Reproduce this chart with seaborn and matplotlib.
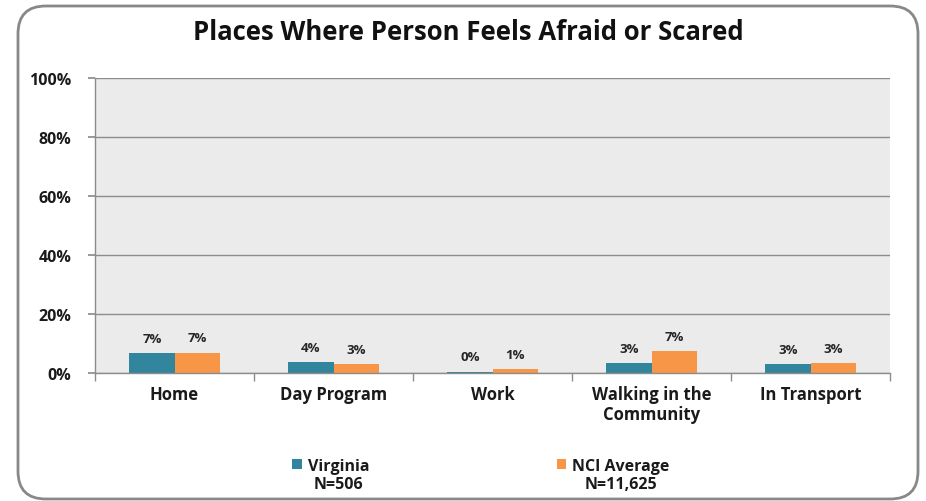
import numpy as np
import pandas as pd
import matplotlib
matplotlib.use("Agg")
import matplotlib.pyplot as plt
from matplotlib.patches import FancyBboxPatch, Patch
from matplotlib.ticker import FixedLocator
import seaborn as sns

sns.set_theme(style="white")
plt.rcParams["font.family"] = ["Open Sans", "DejaVu Sans"]

# data
places = ["Home", "Day Program", "Work", "Walking in the\nCommunity", "In Transport"]
virginia = [6.8, 3.6, 0.4, 3.4, 3.0]
nci = [6.9, 3.1, 1.3, 7.4, 3.3]
virginia_lbl = ["7%", "4%", "0%", "3%", "3%"]
nci_lbl = ["7%", "3%", "1%", "7%", "3%"]
series = ["Virginia", "NCI Average"]
sizes = ["N=506", "N=11,625"]
colors = ["#31859C", "#F79646"]

df = pd.DataFrame({
    "place": places * 2,
    "value": virginia + nci,
    "group": [series[0]] * 5 + [series[1]] * 5,
})

fig = plt.figure(figsize=(9.26, 5.02), dpi=100)
ax = fig.add_axes([95 / 926, 1 - 374 / 502, 795 / 926, 295 / 502])

sns.barplot(data=df, x="place", y="value", hue="group", palette=colors,
            width=0.57, ax=ax, legend=False, saturation=1, linewidth=0)

for cont, lbls in zip(ax.containers, [virginia_lbl, nci_lbl]):
    ax.bar_label(cont, labels=lbls, padding=6, fontsize=9.5, fontweight="bold",
                 color="#262626")

ax.set_facecolor("#EBEBEB")
ax.set_ylim(0, 100)
ax.set_xlim(-0.5, 4.5)
ax.set_yticks([0, 20, 40, 60, 80, 100])
ax.set_yticklabels(["0%", "20%", "40%", "60%", "80%", "100%"], fontsize=11.5,
                   fontweight="bold", color="#1a1a1a")
ax.yaxis.grid(True, color="#8C8C8C", lw=1)
ax.set_axisbelow(True)
ax.tick_params(axis="y", length=5, color="#8C8C8C", left=True, pad=12)
ax.set_xticks(range(5))
ax.set_xticklabels(places, fontsize=12, fontweight="bold", color="#1a1a1a",
                   linespacing=1.1)
ax.tick_params(axis="x", length=0, pad=9)
ax.xaxis.set_minor_locator(FixedLocator(np.arange(-0.5, 5, 1)))
ax.tick_params(axis="x", which="minor", length=6, color="#8C8C8C", bottom=True)
ax.set_xlabel("")
ax.set_ylabel("")
for s in ["top", "right"]:
    ax.spines[s].set_visible(False)
for s in ["left", "bottom"]:
    ax.spines[s].set_color("#8C8C8C")
    ax.spines[s].set_linewidth(1)

fig.text(468 / 926, 1 - 33 / 502, "Places Where Person Feels Afraid or Scared",
         ha="center", va="center", fontsize=18.5, fontweight="bold", color="#111111")

handles = [Patch(facecolor=c, edgecolor="none") for c in colors]
leg = fig.legend(handles, series, loc="center", bbox_to_anchor=(481 / 926, 1 - 467 / 502),
                 ncol=2, frameon=False, handlelength=0.6, handleheight=0.6,
                 handletextpad=0.4, columnspacing=11.7,
                 prop={"weight": "bold", "size": 11.5})
for t in leg.get_texts():
    t.set_color("#1a1a1a")

# sample sizes centred under each legend label
fig.canvas.draw()
inv = fig.transFigure.inverted()
for t, n in zip(leg.get_texts(), sizes):
    bb = t.get_window_extent()
    (x0, y0), (x1, y1) = inv.transform([[bb.x0, bb.y0], [bb.x1, bb.y1]])
    fig.text((x0 + x1) / 2, y0 - 0.004, n, ha="center", va="top",
             fontsize=11.5, fontweight="bold", color="#1a1a1a")

frame = FancyBboxPatch((18 / 926, 2 / 502), 900 / 926, 493 / 502,
                       boxstyle="round,pad=0,rounding_size=0.03",
                       transform=fig.transFigure, fill=False,
                       edgecolor="#888888", lw=2, mutation_aspect=926 / 502)
fig.patches.append(frame)

fig.savefig("out.png", dpi=100)
